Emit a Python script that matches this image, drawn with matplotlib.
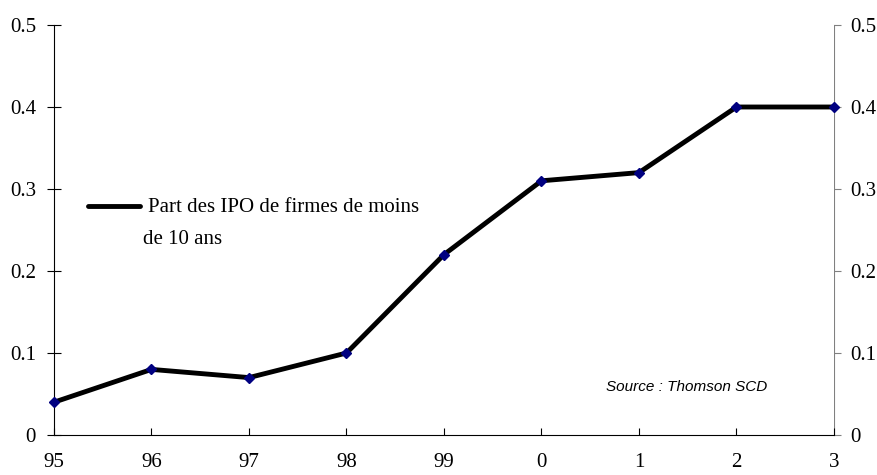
import matplotlib
matplotlib.use('Agg')
import matplotlib.pyplot as plt

annees = ['95', '96', '97', '98', '99', '0', '1', '2', '3']
part_ipo = [0.04, 0.08, 0.07, 0.10, 0.22, 0.31, 0.32, 0.40, 0.40]
yticks = [0, 0.1, 0.2, 0.3, 0.4, 0.5]
ylabels = ['0', '0.1', '0.2', '0.3', '0.4', '0.5']

plt.rcParams['font.family'] = 'Liberation Serif'

fig = plt.figure(figsize=(8.78, 4.75), dpi=100)
ax = fig.add_axes([54 / 878, 1 - 435 / 475, 780 / 878, 410 / 475])
x = list(range(len(annees)))
ax.plot(x, part_ipo, color='black', lw=3.5, zorder=2)
ax.plot(x, part_ipo, ls='none', marker='D', ms=5.5, color='#000080',
        zorder=3, clip_on=False)

ax.set_xlim(0, len(annees) - 1)
ax.set_ylim(0, 0.5)
ax.set_xticks(x)
ax.set_xticklabels(annees, fontsize=15)
ax.set_yticks(yticks)
ax.set_yticklabels(ylabels, fontsize=15)
ax.tick_params(axis='x', direction='in', length=5, pad=13, width=0.8)
ax.tick_params(axis='y', direction='inout', length=10, pad=8, width=0.8)
ax.spines['top'].set_visible(False)
ax.spines['right'].set_visible(False)

ax2 = ax.twinx()
ax2.set_ylim(0, 0.5)
ax2.set_yticks(yticks)
ax2.set_yticklabels(ylabels, fontsize=15)
ax2.tick_params(axis='y', direction='out', length=5, pad=7, width=0.8,
                color='#808080')
for s in ['top', 'left', 'bottom']:
    ax2.spines[s].set_visible(False)
ax2.spines['right'].set_color('#808080')
ax2.set_zorder(ax.get_zorder() - 1)

# légende dessinée à la main (trait au niveau de la première ligne)
ax.plot([0.0436, 0.110], [0.558, 0.558], transform=ax.transAxes,
        color='black', lw=3.5, solid_capstyle='round')
ax.text(0.1205, 0.555, 'Part des IPO de firmes de moins',
        transform=ax.transAxes, fontsize=15, va='center')
ax.text(0.1145, 0.478, 'de 10 ans',
        transform=ax.transAxes, fontsize=15, va='center')

ax.text(0.708, 0.118, 'Source : Thomson SCD', transform=ax.transAxes,
        fontsize=11, style='italic', family='Liberation Sans', va='center')

fig.savefig('out.png', dpi=100)
